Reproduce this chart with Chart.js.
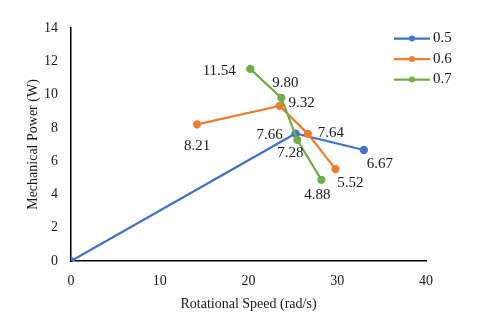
<!DOCTYPE html>
<html lang="en">
<head>
<meta charset="UTF-8">
<title>Mechanical Power vs Rotational Speed</title>
<script src="https://cdn.jsdelivr.net/npm/chart.js"></script>
<style>
  html, body { margin: 0; padding: 0; background: #fff; }
  #wrap { width: 480px; height: 319px; }
</style>
</head>
<body>
<div id="wrap"><canvas id="chart" width="480" height="319"></canvas></div>
<script>
// series labels
const seriesNames = ['0.5', '0.6', '0.7']

// rotational speed (rad/s) and mechanical power (W) per series
const speed05 = [0, 25.3, 33.0]
const power05 = [0, 7.66, 6.67]
const speed06 = [14.2, 23.5, 26.7, 29.8]
const power06 = [8.21, 9.32, 7.64, 5.52]
const speed07 = [20.2, 23.7, 25.5, 28.2]
const power07 = [11.54, 9.80, 7.28, 4.88]

const xTicks = [0, 10, 20, 30, 40]
const yTicks = [0, 2, 4, 6, 8, 10, 12, 14]

const colors = ['#4472C4', '#ED7D31', '#70AD47']
const serif = '"Liberation Serif", "Times New Roman", serif'

// where each value label sits relative to its point (px)
const labelOffsets = [
  [null, [-26, 2], [16, 14]],
  [[0, 22], [22, -3], [23, -1], [15, 14]],
  [[-31, 2], [4, -15], [-7, 13], [-4, 15]],
]

const toPoints = (xs, ys) => xs.map((x, i) => ({ x, y: ys[i] }))
const allSeries = [
  toPoints(speed05, power05),
  toPoints(speed06, power06),
  toPoints(speed07, power07),
]

const valueLabels = {
  id: 'valueLabels',
  afterDatasetsDraw(chart) {
    const ctx = chart.ctx
    ctx.save()
    ctx.font = '15px ' + serif
    ctx.fillStyle = '#1a1a1a'
    ctx.textAlign = 'center'
    ctx.textBaseline = 'middle'
    chart.data.datasets.forEach((ds, i) => {
      const meta = chart.getDatasetMeta(i)
      meta.data.forEach((pt, j) => {
        const off = labelOffsets[i][j]
        if (!off) return
        ctx.fillText(ds.data[j].y.toFixed(2), pt.x + off[0], pt.y + off[1])
      })
    })
    ctx.restore()
  },
}

// excel-style legend: short line with a marker in the middle
const lineLegend = {
  id: 'lineLegend',
  afterDraw(chart) {
    const ctx = chart.ctx
    ctx.save()
    ctx.font = '15px ' + serif
    ctx.textBaseline = 'middle'
    chart.data.datasets.forEach((ds, i) => {
      const y = 38.5 + i * 20.5
      ctx.strokeStyle = ds.borderColor
      ctx.lineWidth = 2.25
      ctx.beginPath()
      ctx.moveTo(394, y)
      ctx.lineTo(430, y)
      ctx.stroke()
      ctx.fillStyle = ds.borderColor
      ctx.beginPath()
      ctx.arc(412, y, 3, 0, Math.PI * 2)
      ctx.fill()
      ctx.fillStyle = '#1a1a1a'
      ctx.fillText(ds.label, 433, y)
    })
    ctx.restore()
  },
}

const datasets = allSeries.map((data, i) => ({
  label: seriesNames[i],
  data,
  showLine: true,
  borderColor: colors[i],
  backgroundColor: colors[i],
  borderWidth: 2.25,
  pointRadius: 3,
  pointHoverRadius: 3,
  order: 3 - i,
}))

new Chart(document.getElementById('chart'), {
  type: 'scatter',
  data: { datasets },
  options: {
    responsive: false,
    animation: false,
    layout: { padding: { top: 28, right: 54, left: 0, bottom: 0 } },
    plugins: { legend: { display: false }, tooltip: { enabled: false } },
    scales: {
      x: {
        type: 'linear',
        min: 0,
        max: 40,
        afterBuildTicks: (s) => { s.ticks = xTicks.map((v) => ({ value: v })) },
        afterFit: (s) => { s.height = 58 },
        grid: { display: false, drawTicks: false },
        border: { display: true, color: '#000', width: 1.5 },
        ticks: { color: '#1a1a1a', font: { family: serif, size: 14 }, padding: 12 },
        title: {
          display: true,
          text: 'Rotational Speed (rad/s)',
          color: '#1a1a1a',
          font: { family: serif, size: 14 },
          padding: { top: 4, bottom: 6 },
        },
      },
      y: {
        type: 'linear',
        min: 0,
        max: 14,
        afterBuildTicks: (s) => { s.ticks = yTicks.map((v) => ({ value: v })) },
        afterFit: (s) => { s.width = 71 },
        grid: { display: false, drawTicks: false },
        border: { display: true, color: '#000', width: 1.5 },
        ticks: { color: '#1a1a1a', font: { family: serif, size: 14 }, padding: 13 },
        title: {
          display: true,
          text: 'Mechanical Power (W)',
          color: '#1a1a1a',
          font: { family: serif, size: 14 },
          padding: { top: 25, bottom: 0 },
        },
      },
    },
  },
  plugins: [valueLabels, lineLegend],
})
</script>
</body>
</html>
